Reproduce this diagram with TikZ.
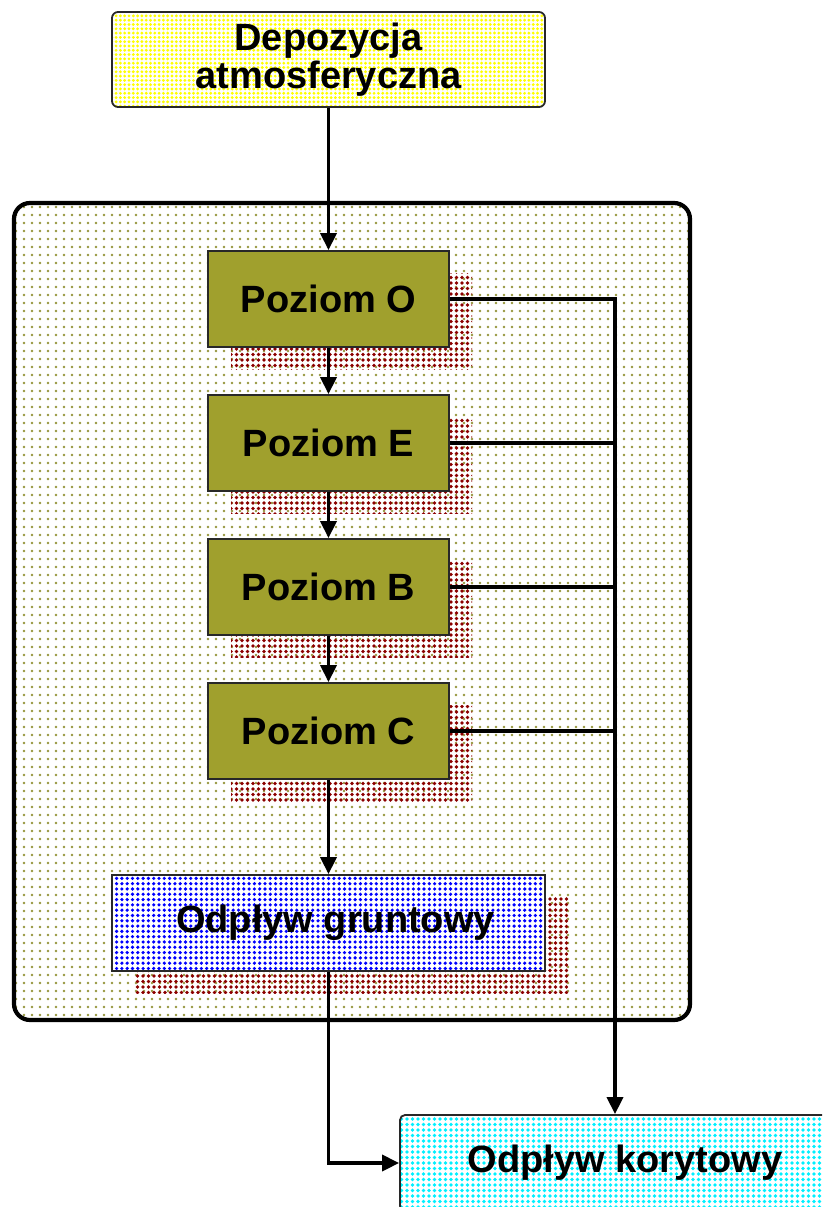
\documentclass[tikz,border=0pt]{standalone}
\usepackage{fontspec}
\setmainfont{Liberation Sans}
\usetikzlibrary{arrows.meta,patterns.meta,shadows}
\definecolor{olivedot}{RGB}{150,150,60}
\definecolor{levelfill}{RGB}{160,160,45}
\definecolor{shadred}{RGB}{140,0,0}
\definecolor{yeldot}{RGB}{255,255,0}
\definecolor{bluedot}{RGB}{0,0,255}
\definecolor{cyandot}{RGB}{0,240,255}
\definecolor{edgegray}{RGB}{40,40,40}
\tikzset{
  lbl/.style={font=\fontsize{38}{40}\selectfont\bfseries, text=black},
  shad/.style={general shadow={shadow xshift=23pt, shadow yshift=-22pt,
      pattern={Dots[distance=5.5pt, radius=1.9pt]}, pattern color=shadred}},
  topbox/.style={lbl, draw=edgegray, line width=1.8pt, rounded corners=6pt,
      preaction={fill=white}, pattern={Dots[distance=4.3pt, radius=1.6pt]}, pattern color=yeldot,
      minimum width=433pt, minimum height=95pt, align=center, inner sep=0pt},
  level/.style={lbl, draw=edgegray, line width=1.8pt, fill=levelfill, shad,
      minimum width=241pt, minimum height=96pt, inner sep=0pt},
  ground/.style={lbl, draw=edgegray, line width=1.8pt, shad,
      preaction={fill=white}, pattern={Dots[distance=5.3pt, radius=1.8pt]}, pattern color=bluedot,
      minimum width=433pt, minimum height=96pt, inner sep=0pt},
  channel/.style={lbl, draw=edgegray, line width=1.8pt, rounded corners=5pt,
      preaction={fill=white}, pattern={Dots[distance=5.5pt, radius=1.9pt]}, pattern color=cyandot,
      minimum width=450pt, minimum height=96pt, inner sep=0pt},
  container/.style={draw=black, line width=4.2pt, rounded corners=16pt,
      preaction={fill=white}, pattern={Dots[distance=8pt, radius=1.3pt]}, pattern color=olivedot},
  conn/.style={draw=black, line width=3.5pt},
  arr/.style={conn, -{Triangle[length=17pt, width=16pt]}}
}
\begin{document}
\begin{tikzpicture}[x=1pt, y=-1pt]
\useasboundingbox (0,0) rectangle (822,1207);
\clip (0,0) rectangle (822,1207);
\fill[white] (0,0) rectangle (822,1207);

% soil container
\path[container] (14,203) rectangle (690,1020);

% boxes
\node[topbox] (dep) at (328.5,59.5) {Depozycja\\[-2pt]atmosferyczna};
\node[level] (o) at (328.5,299) {Poziom O};
\node[level] (e) at (328.5,443) {Poziom E};
\node[level] (b) at (328.5,587) {Poziom B};
\node[level] (c) at (328.5,731) {Poziom C};
\node[ground] (gr) at (328.5,923) {\hspace{14pt}Odpływ gruntowy};
\node[channel] (kor) at (625,1163) {Odpływ korytowy};

\coordinate (j) at (615,299);

% connectors
\draw[arr] (dep.south) -- (o.north);
\draw[arr] (o.south) -- (e.north);
\draw[arr] (e.south) -- (b.north);
\draw[arr] (b.south) -- (c.north);
\draw[arr] (c.south) -- (gr.north);
\draw[arr] (gr.south) |- (kor.west);
\draw[arr] (o.east) -- (j) -- (j |- kor.north);
\draw[conn] (e.east) -- (e.east -| j);
\draw[conn] (b.east) -- (b.east -| j);
\draw[conn] (c.east) -- (c.east -| j);
\end{tikzpicture}
\end{document}
